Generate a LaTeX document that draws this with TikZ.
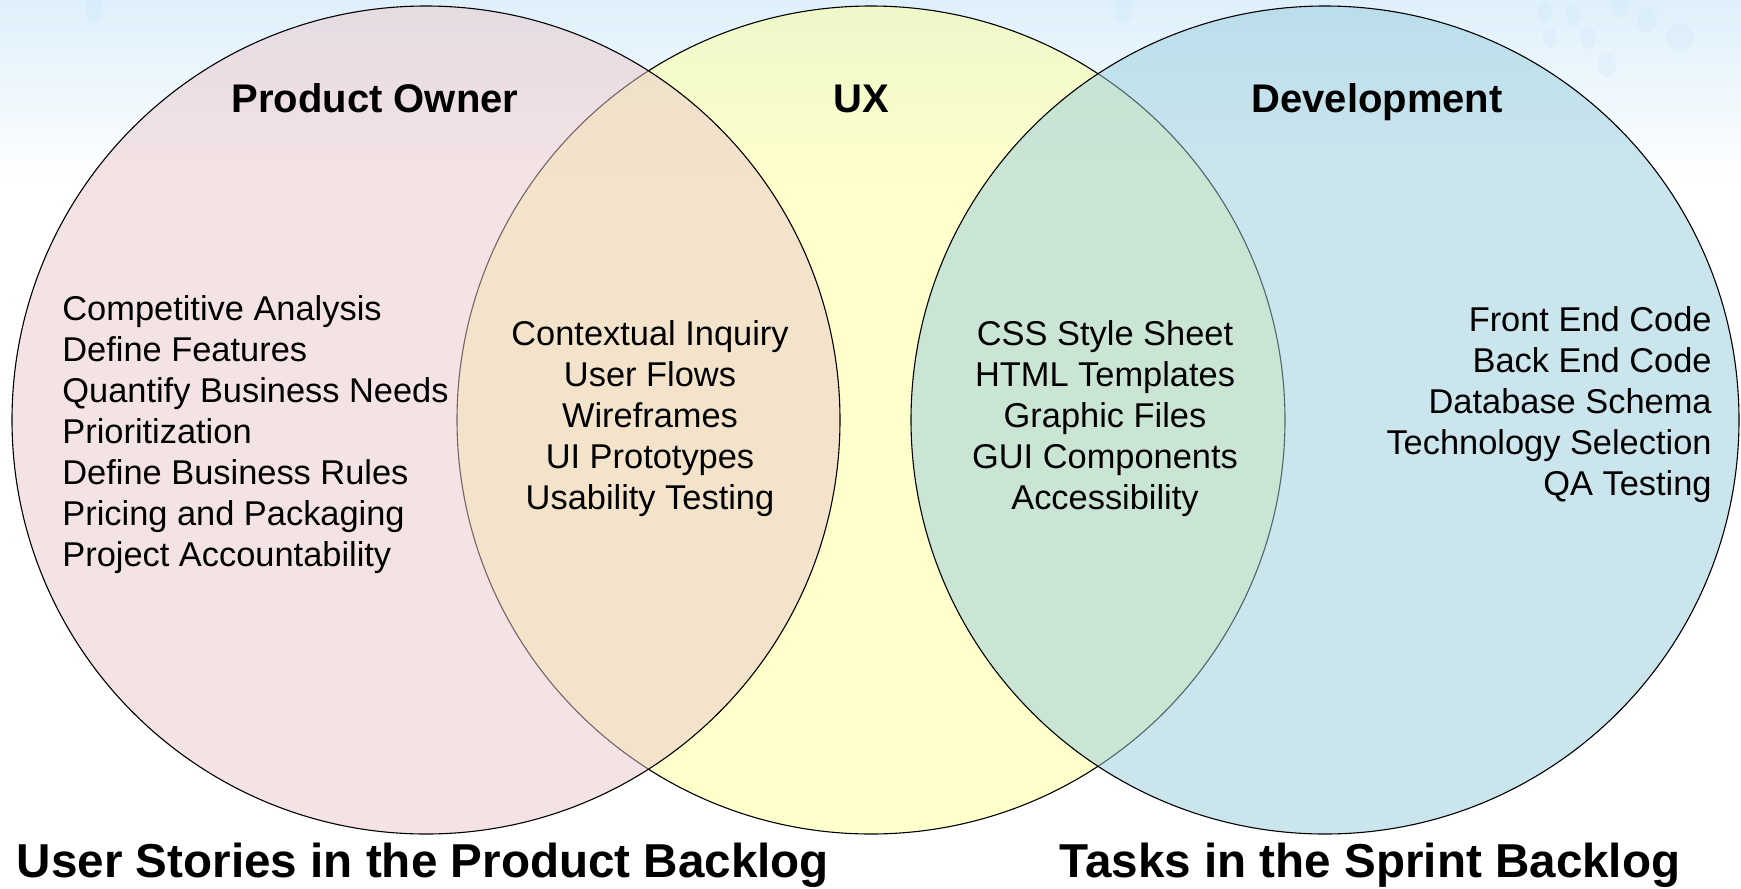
\documentclass[tikz,border=0pt]{standalone}
\usepackage{fontspec}
\setmainfont{Liberation Sans}
\definecolor{bgblue}{RGB}{222,240,251}
\definecolor{pofill}{RGB}{235,200,203}
\definecolor{uxfill}{RGB}{255,255,153}
\definecolor{devfill}{RGB}{153,205,221}
\definecolor{bubble}{RGB}{205,228,246}
\tikzset{
  venn/.style={circle, draw=black, line width=0.55pt, fill opacity=0.5, minimum size=414pt, inner sep=0pt},
  heading/.style={font=\bfseries\fontsize{20}{24}\selectfont, inner sep=0pt, anchor=base},
  item/.style={font=\fontsize{17.2}{20.5}\selectfont, inner sep=0pt},
  backlog/.style={font=\bfseries\fontsize{23.8}{28}\selectfont, inner sep=0pt, anchor=base},
  bub/.style={fill=bubble, fill opacity=0.25, draw=none}
}
\begin{document}
\begin{tikzpicture}[x=0.5pt,y=-0.5pt]
\useasboundingbox (0,0) rectangle (1741,889);
\fill[white] (0,0) rectangle (1741,889);
\shade[top color=bgblue, bottom color=white] (0,0) rectangle (1741,185);
% faint bubbles
\fill[bub] (94,10) ellipse (9 and 14);
\fill[bub] (1124,10) ellipse (8 and 13);
\fill[bub] (1545,13) ellipse (7 and 10);
\fill[bub] (1573,15) ellipse (7 and 10);
\fill[bub] (1550,38) ellipse (7 and 10);
\fill[bub] (1588,38) ellipse (8 and 11);
\fill[bub] (1607,65) ellipse (9 and 12);
\fill[bub] (1620,7) ellipse (9 and 10);
\fill[bub] (1647,20) ellipse (10 and 13);
\fill[bub] (1680,37) ellipse (13 and 15);
% circles: middle first, then left and right on top
\node[venn, fill=uxfill] (ux) at (871,420) {};
\node[venn, fill=pofill] (po) at (426,420) {};
\node[venn, fill=devfill] (dev) at (1325,420) {};
% headings
\node[heading] (hpo) at (375,112) {Product Owner};
\node[heading] (hux) at (861,112) {UX};
\node[heading] (hdev) at (1377,112) {Development};
% product owner items
\foreach \t [count=\i] in {Competitive Analysis, Define Features, Quantify Business Needs, Prioritization, Define Business Rules, Pricing and Packaging, Project Accountability}
  \node[item, anchor=base west] (poi\i) at (62,{320+41*(\i-1)}) {\t};
% product owner / UX items
\foreach \t [count=\i] in {Contextual Inquiry, User Flows, Wireframes, UI Prototypes, Usability Testing}
  \node[item, anchor=base] (uxl\i) at (650,{345+41*(\i-1)}) {\t};
% UX / development items
\foreach \t [count=\i] in {CSS Style Sheet, HTML Templates, Graphic Files, GUI Components, Accessibility}
  \node[item, anchor=base] (uxr\i) at (1105,{345+41*(\i-1)}) {\t};
% development items
\foreach \t [count=\i] in {Front End Code, Back End Code, Database Schema, Technology Selection, QA Testing}
  \node[item, anchor=base east] (devi\i) at (1712,{331+41*(\i-1)}) {\t};
% backlogs
\node[backlog] (pb) at (423,877) {User Stories in the Product Backlog};
\node[backlog] (sb) at (1370,877) {Tasks in the Sprint Backlog};
\end{tikzpicture}
\end{document}
